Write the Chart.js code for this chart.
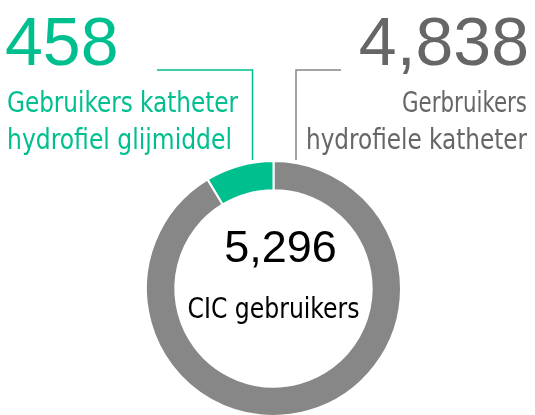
<!DOCTYPE html>
<html>
<head>
<meta charset="utf-8">
<script src="https://cdn.jsdelivr.net/npm/chart.js@4"></script>
<style>
  html, body { margin: 0; padding: 0; background: #fff; overflow: hidden; }
  #wrap { width: 535px; height: 420px; }
</style>
</head>
<body>
<div id="wrap"><canvas id="cic"></canvas></div>
<script>
const labels = ["Gerbruikers hydrofiele katheter", "Gebruikers katheter hydrofiel glijmiddel"];
const values = [4838, 458];
const colors = ["#878787", "#00bf8f"];
const totalLabel = "CIC gebruikers";

const fmt = n => n.toLocaleString("en-US");
const total = values.reduce((a, b) => a + b, 0);

const numFont = "'Liberation Sans', Arial, sans-serif";
const txtFont = "'DejaVu Sans Condensed', 'Liberation Sans', sans-serif";

const annotations = {
    id: "annotations",
    afterDraw(chart) {
        const ctx = chart.ctx;
        ctx.save();

        // leader lines
        ctx.lineWidth = 1.5;
        ctx.strokeStyle = colors[1];
        ctx.beginPath();
        ctx.moveTo(157, 70);
        ctx.lineTo(252.5, 70);
        ctx.lineTo(252.5, 160);
        ctx.stroke();
        ctx.strokeStyle = colors[0];
        ctx.beginPath();
        ctx.moveTo(341, 70);
        ctx.lineTo(296, 70);
        ctx.lineTo(296, 160);
        ctx.stroke();

        // left label (green)
        ctx.fillStyle = colors[1];
        ctx.textAlign = "left";
        ctx.textBaseline = "alphabetic";
        ctx.font = "68px " + numFont;
        ctx.fillText(fmt(values[1]), 5, 65);
        ctx.font = "29px " + txtFont;
        ctx.fillText("Gebruikers katheter", 7, 112, 231);
        ctx.fillText("hydrofiel glijmiddel", 7, 149, 225);

        // right label (grey)
        ctx.fillStyle = "#666666";
        ctx.textAlign = "right";
        ctx.font = "68px " + numFont;
        ctx.fillText(fmt(values[0]), 529, 65);
        ctx.font = "29px " + txtFont;
        ctx.fillText("Gerbruikers", 527, 112, 125);
        ctx.fillText("hydrofiele katheter", 527, 149, 221);

        // centre
        const meta = chart.getDatasetMeta(0).data[0];
        ctx.fillStyle = "#000";
        ctx.textAlign = "center";
        ctx.font = "45px " + numFont;
        ctx.fillText(fmt(total), meta.x + 7, 262);
        ctx.font = "28px " + txtFont;
        ctx.fillText(totalLabel, meta.x, 318, 172);

        ctx.restore();
    }
};

new Chart(document.getElementById("cic"), {
    type: "doughnut",
    data: {
        labels: labels,
        datasets: [{
            data: values,
            backgroundColor: colors,
            borderColor: "#fff",
            borderWidth: 2
        }]
    },
    options: {
        responsive: true,
        maintainAspectRatio: false,
        animation: false,
        cutout: "77%",
        layout: { padding: { top: 160, left: 145, right: 133, bottom: 3 } },
        plugins: {
            legend: { display: false },
            tooltip: { enabled: false }
        }
    },
    plugins: [annotations]
});
</script>
</body>
</html>
